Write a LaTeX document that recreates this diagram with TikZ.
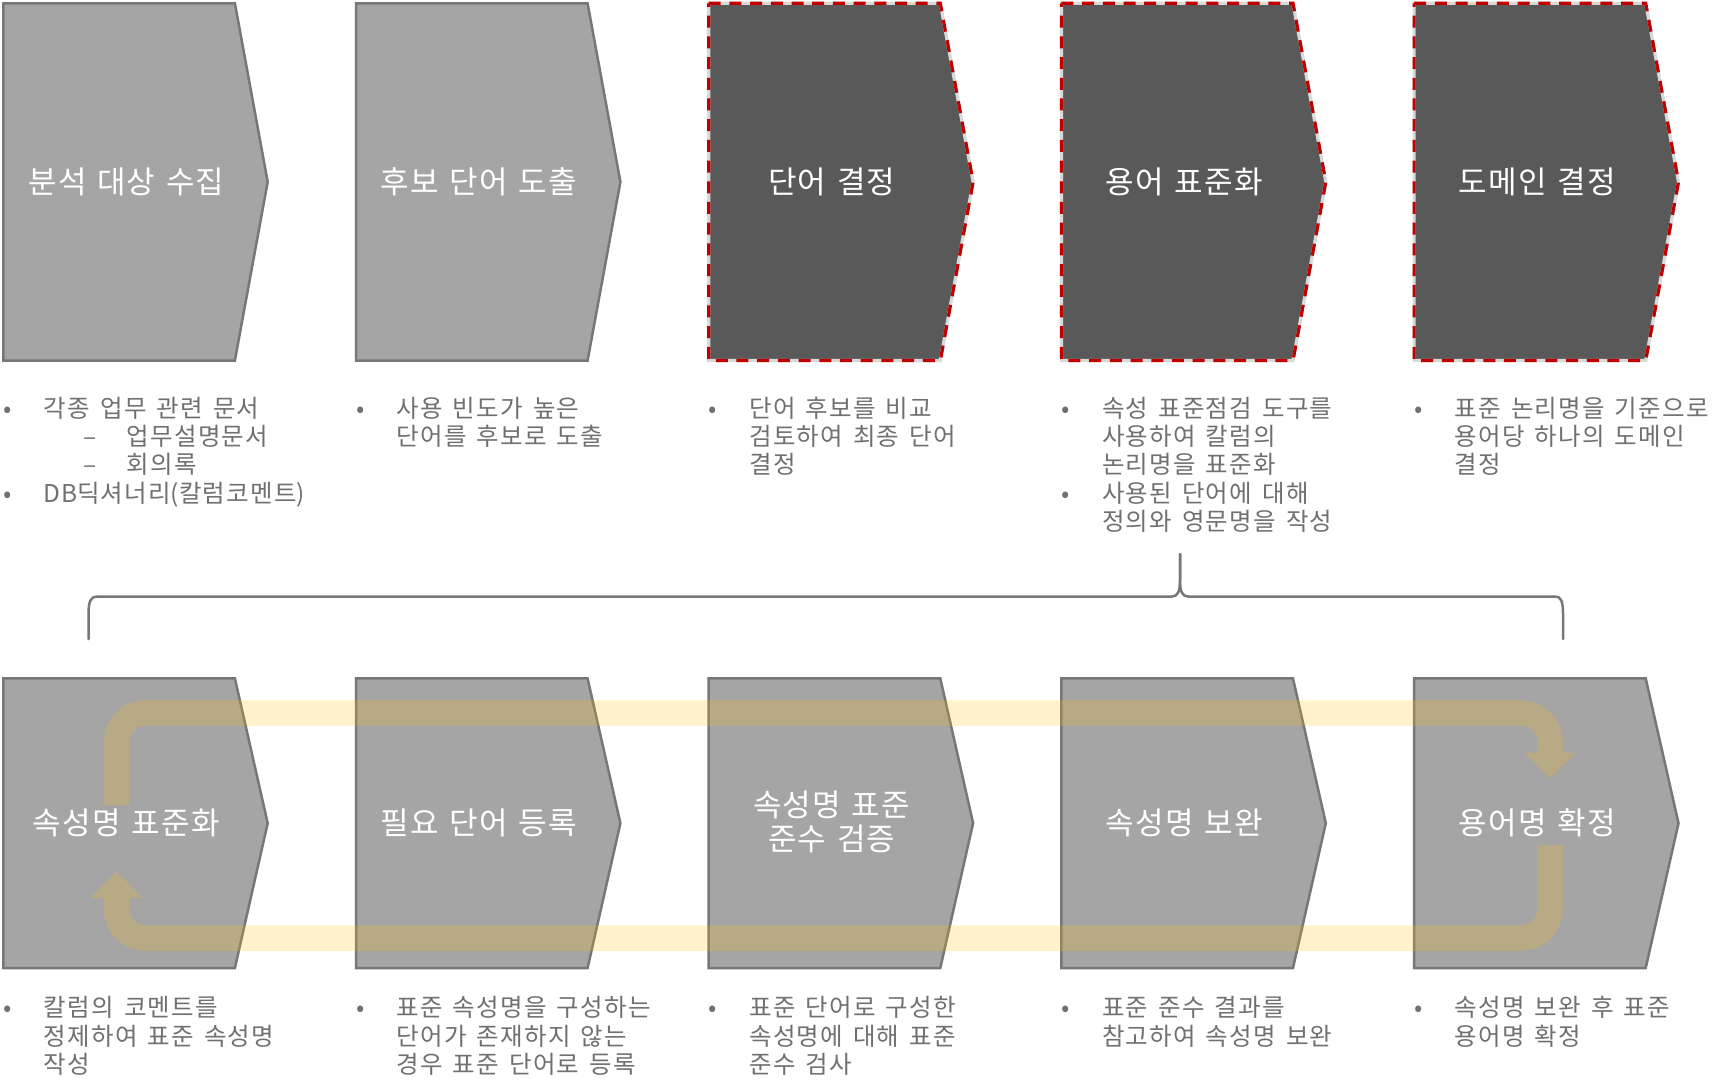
\documentclass[tikz,border=0pt]{standalone}
\usepackage{fontspec}
\newfontfamily\labfont{Noto Sans CJK KR}[WordSpace=1.3,LetterSpace=4]
\newfontfamily\bulfont{Noto Sans CJK KR}[WordSpace=1.5,LetterSpace=5]
\newfontfamily\latfont{Noto Sans CJK KR}[LetterSpace=1]
\definecolor{cgray}{HTML}{A5A5A5}
\definecolor{cedge}{HTML}{777777}
\definecolor{cdark}{HTML}{595959}
\definecolor{cred}{HTML}{C00000}
\definecolor{ctext}{HTML}{707070}
\definecolor{cloop}{HTML}{FFC000}
\begin{document}
\begin{tikzpicture}[x=1pt,y=-1pt,
  chev/.style={fill=cgray, draw=cedge, line width=2.5},
  lab/.style={text=white, font=\labfont\fontsize{31}{34}\selectfont, inner sep=0, anchor=base},
  txt/.style={text=ctext, font=\bulfont\fontsize{24.5}{28.4}\selectfont, inner sep=0, anchor=base west},
  bul/.style={text=ctext, font=\bulfont\fontsize{24.5}{28.4}\selectfont, inner sep=0, anchor=base},
  band/.style={draw=cloop, draw opacity=0.2, line width=25.5, rounded corners=29},
  head/.style={fill=cloop, fill opacity=0.2},
  brace/.style={draw=cedge, line width=2.5, line cap=round, line join=round}]
\useasboundingbox (0,0) rectangle (1713,1080);

% top row
\foreach \L in {3.3,356}{
  \draw[chev] (\L,3.3) -- (\L+231.6,3.3) -- (\L+264.4,181.9) -- (\L+231.6,360.5) -- (\L,360.5) -- cycle;
}
\foreach \L in {708.7,1061.4,1414.1}{
  \fill[cdark] (\L,3.3) -- (\L+231.6,3.3) -- (\L+264.4,181.9) -- (\L+231.6,360.5) -- (\L,360.5) -- cycle;
  \draw[line width=3.2, draw=gray!30] (\L,3.3) -- (\L+231.6,3.3) -- (\L+264.4,181.9) -- (\L+231.6,360.5) -- (\L,360.5) -- cycle;
  \draw[line width=3.2, draw=cred, dash pattern=on 12 off 8.7] (\L,3.3) -- (\L+231.6,3.3) -- (\L+264.4,181.9) -- (\L+231.6,360.5) -- (\L,360.5) -- cycle;
}
% bottom row
\foreach \L in {3.3,356,708.7,1061.4,1414.1}{
  \draw[chev] (\L,678.4) -- (\L+231.6,678.4) -- (\L+264.4,823.2) -- (\L+231.6,968) -- (\L,968) -- cycle;
}

% loop
\draw[band] (116.5,805) -- (116.5,713) -- (1550,713) -- (1550,752.7);
\fill[head] (1524,752.7) -- (1576,752.7) -- (1550,778) -- cycle;
\draw[band] (1550,845) -- (1550,938) -- (116.5,938) -- (116.5,898);
\fill[head] (90.5,898) -- (142.5,898) -- (116.5,871.7) -- cycle;

% brace
\coordinate (bl) at (88.5,639);
\coordinate (bt) at (1180,554);
\coordinate (br) at (1563,639);
\draw[brace] (bl) -- (88.5,614) .. controls (88.5,601) and (91,596.5) .. (97,596.5) -- (1172,596.5) .. controls (1178,596.5) and (1180,591) .. (1180,580) -- (bt);
\draw[brace] (bt) -- (1180,580) .. controls (1180,591) and (1182,596.5) .. (1188,596.5) -- (1555,596.5) .. controls (1561,596.5) and (1563,601) .. (1563,614) -- (br);

% labels
\node[lab] (h1) at (126.3,193.2) {분석 대상 수집};
\node[lab] (h2) at (479,193.2) {후보 단어 도출};
\node[lab] (h3) at (831.7,193.2) {단어 결정};
\node[lab] (h4) at (1184.4,193.2) {용어 표준화};
\node[lab] (h5) at (1537.1,193.2) {도메인 결정};
\node[lab] (g1) at (126.3,834.5) {속성명 표준화};
\node[lab] (g2) at (479,834.5) {필요 단어 등록};
\node[lab] (g3a) at (831.7,816.3) {속성명 표준};
\node[lab] (g3b) at (831.7,850.3) {준수 검증};
\node[lab] (g4) at (1184.4,834.5) {속성명 보완};
\node[lab] (g5) at (1537.1,834.5) {용어명 확정};

% top texts
\node[bul] (p1a) at (7.6,417) {•};
\node[txt] (t1a) at (43.7,417) {각종 업무 관련 문서};
\node[bul] (d1b) at (90.3,445.4) {–};
\node[txt] (t1b) at (126.7,445.4) {업무설명문서};
\node[bul] (d1c) at (90.3,473.8) {–};
\node[txt] (t1c) at (126.7,473.8) {회의록};
\node[bul] (p1d) at (7.6,502.2) {•};
\node[txt] (t1d) at (43.7,502.2) {{\latfont DB}딕셔너리{\latfont(}칼럼코멘트{\latfont)}};

\node[bul] (p2a) at (360.3,417) {•};
\node[txt] (t2a) at (396.4,417) {사용 빈도가 높은};
\node[txt] (t2b) at (396.4,445.4) {단어를 후보로 도출};

\node[bul] (p3a) at (713,417) {•};
\node[txt] (t3a) at (749.1,417) {단어 후보를 비교};
\node[txt] (t3b) at (749.1,445.4) {검토하여 최종 단어};
\node[txt] (t3c) at (749.1,473.8) {결정};

\node[bul] (p4a) at (1065.7,417) {•};
\node[txt] (t4a) at (1101.8,417) {속성 표준점검 도구를};
\node[txt] (t4b) at (1101.8,445.4) {사용하여 칼럼의};
\node[txt] (t4c) at (1101.8,473.8) {논리명을 표준화};
\node[bul] (p4d) at (1065.7,502.2) {•};
\node[txt] (t4d) at (1101.8,502.2) {사용된 단어에 대해};
\node[txt] (t4e) at (1101.8,530.6) {정의와 영문명을 작성};

\node[bul] (p5a) at (1418.4,417) {•};
\node[txt] (t5a) at (1454.5,417) {표준 논리명을 기준으로};
\node[txt] (t5b) at (1454.5,445.4) {용어당 하나의 도메인};
\node[txt] (t5c) at (1454.5,473.8) {결정};

% bottom texts
\node[bul] (q1a) at (7.6,1016.8) {•};
\node[txt] (s1a) at (43.7,1016.8) {칼럼의 코멘트를};
\node[txt] (s1b) at (43.7,1045.2) {정제하여 표준 속성명};
\node[txt] (s1c) at (43.7,1073.6) {작성};

\node[bul] (q2a) at (360.3,1016.8) {•};
\node[txt] (s2a) at (396.4,1016.8) {표준 속성명을 구성하는};
\node[txt] (s2b) at (396.4,1045.2) {단어가 존재하지 않는};
\node[txt] (s2c) at (396.4,1073.6) {경우 표준 단어로 등록};

\node[bul] (q3a) at (713,1016.8) {•};
\node[txt] (s3a) at (749.1,1016.8) {표준 단어로 구성한};
\node[txt] (s3b) at (749.1,1045.2) {속성명에 대해 표준};
\node[txt] (s3c) at (749.1,1073.6) {준수 검사};

\node[bul] (q4a) at (1065.7,1016.8) {•};
\node[txt] (s4a) at (1101.8,1016.8) {표준 준수 결과를};
\node[txt] (s4b) at (1101.8,1045.2) {참고하여 속성명 보완};

\node[bul] (q5a) at (1418.4,1016.8) {•};
\node[txt] (s5a) at (1454.5,1016.8) {속성명 보완 후 표준};
\node[txt] (s5b) at (1454.5,1045.2) {용어명 확정};
\end{tikzpicture}
\end{document}
